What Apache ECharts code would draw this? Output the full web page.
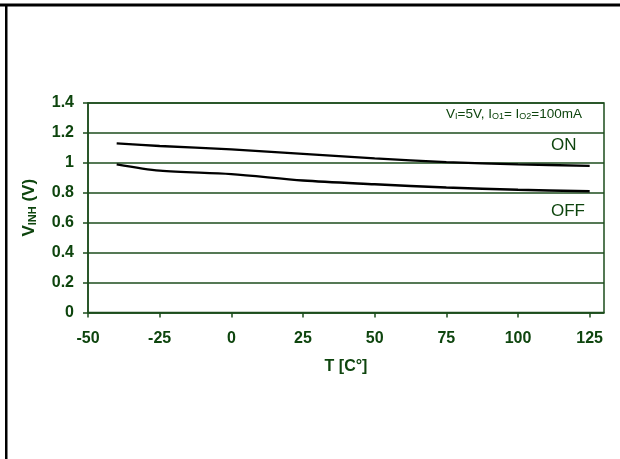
<!DOCTYPE html>
<html>
<head>
<meta charset="utf-8">
<script src="https://cdn.jsdelivr.net/npm/echarts@6/dist/echarts.min.js"></script>
<style>
html,body{margin:0;padding:0;background:#fff;}
#c{width:620px;height:459px;}
</style>
</head>
<body>
<div id="c"></div>
<script>
var temps = [-40, -25, 0, 25, 50, 75, 100, 125];
var vOn = [1.13, 1.113, 1.09, 1.06, 1.03, 1.005, 0.99, 0.98];
var vOff = [0.99, 0.948, 0.925, 0.882, 0.857, 0.835, 0.82, 0.81];
var xTicks = [-50, -25, 0, 25, 50, 75, 100, 125];
var yTicks = [0, 0.2, 0.4, 0.6, 0.8, 1, 1.2, 1.4];

var green = '#1d4d1d';
var txt = '#0e450e';
var font = '"Liberation Sans", Arial, sans-serif';

function pairs(xs, ys) { return xs.map(function (x, i) { return [x, ys[i]]; }); }

var chart = echarts.init(document.getElementById('c'), null, {renderer: 'canvas'});
chart.setOption({
  animation: false,
  backgroundColor: '#fff',
  grid: {left: 88, right: 16, top: 103, bottom: 146.5, show: true, borderColor: green, borderWidth: 1.5, backgroundColor: 'transparent'},
  xAxis: {
    type: 'value', min: -50, max: 130, interval: 25,
    name: 'T [C°]', nameLocation: 'middle', nameGap: 46,
    nameTextStyle: {color: txt, fontFamily: font, fontWeight: 'bold', fontSize: 16},
    axisLine: {show: true, onZero: false, lineStyle: {color: green, width: 1.5}},
    axisTick: {show: true, length: 5, lineStyle: {color: green, width: 1.5}, customValues: xTicks},
    axisLabel: {color: txt, fontFamily: font, fontSize: 16, fontWeight: 'bold', margin: 18, customValues: xTicks, formatter: function (v) { return String(v); }},
    splitLine: {show: false}
  },
  yAxis: {
    type: 'value', min: 0, max: 1.4, interval: 0.2,
    name: '{a|V}{s|INH}{a| (V)}', nameLocation: 'middle', nameGap: 50, nameRotate: 90,
    nameTextStyle: {color: txt, fontFamily: font, fontWeight: 'bold', fontSize: 16,
      rich: {
        a: {color: txt, fontFamily: font, fontWeight: 'bold', fontSize: 17},
        s: {color: txt, fontFamily: font, fontWeight: 'bold', fontSize: 11, verticalAlign: 'bottom', padding: [6, 0, 0, 0]}
      }},
    axisLine: {show: true, onZero: false, lineStyle: {color: green, width: 1.5}},
    axisTick: {show: true, length: 5, lineStyle: {color: green, width: 1.5}},
    axisLabel: {color: txt, fontFamily: font, fontSize: 16, fontWeight: 'bold', margin: 14,
      formatter: function (v) { var t = yTicks.filter(function (k) { return Math.abs(k - v) < 1e-9; }); return t.length ? String(+t[0].toFixed(1)) : ''; }},
    splitLine: {show: true, lineStyle: {color: green, width: 1.5}}
  },
  series: [
    {name: 'ON', type: 'line', data: pairs(temps, vOn), smooth: 0.3, symbol: 'none', lineStyle: {color: '#000', width: 2.4}},
    {name: 'OFF', type: 'line', data: pairs(temps, vOff), smooth: 0.3, symbol: 'none', lineStyle: {color: '#000', width: 2.4}}
  ],
  graphic: [
    {type: 'rect', shape: {x: 0, y: 3.5, width: 620, height: 3}, style: {fill: '#000'}, silent: true},
    {type: 'rect', shape: {x: 5, y: 4, width: 2.5, height: 455}, style: {fill: '#000'}, silent: true},
    {type: 'text', left: 551, top: 137, style: {text: 'ON', fill: txt, font: '17px ' + font}},
    {type: 'text', left: 551, top: 203, style: {text: 'OFF', fill: txt, font: '17px ' + font}},
    {type: 'text', right: 38, top: 107, style: {
      text: '{a|V}{s|I}{a|=5V, I}{s|O1}{a|= I}{s|O2}{a|=100mA}',
      rich: {
        a: {fill: txt, fontFamily: font, fontSize: 13.5},
        s: {fill: txt, fontFamily: font, fontSize: 9, verticalAlign: 'bottom', padding: [5, 0, 0, 0]}
      }}}
  ]
});
</script>
</body>
</html>
